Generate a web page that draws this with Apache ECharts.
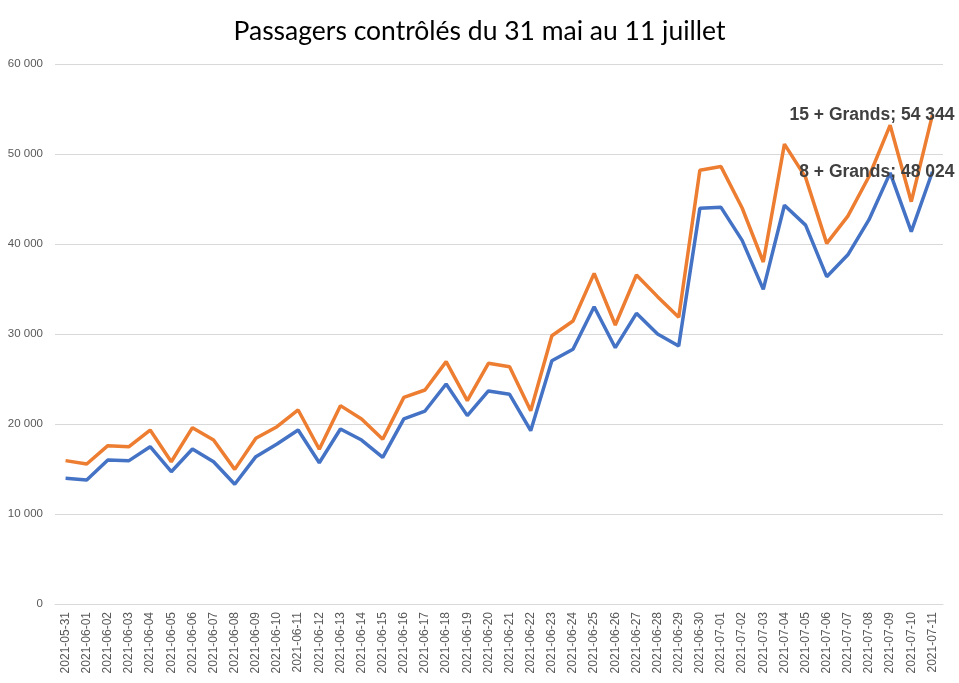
<!DOCTYPE html>
<html>
<head>
<meta charset="utf-8">
<script src="https://cdn.jsdelivr.net/npm/echarts@6/dist/echarts.min.js"></script>
<style>html,body{margin:0;padding:0;background:#fff}#c{width:959px;height:683px}</style>
</head>
<body>
<div id="c"></div>
<script>
const categories = ['2021-05-31','2021-06-01','2021-06-02','2021-06-03','2021-06-04','2021-06-05','2021-06-06','2021-06-07','2021-06-08','2021-06-09','2021-06-10','2021-06-11','2021-06-12','2021-06-13','2021-06-14','2021-06-15','2021-06-16','2021-06-17','2021-06-18','2021-06-19','2021-06-20','2021-06-21','2021-06-22','2021-06-23','2021-06-24','2021-06-25','2021-06-26','2021-06-27','2021-06-28','2021-06-29','2021-06-30','2021-07-01','2021-07-02','2021-07-03','2021-07-04','2021-07-05','2021-07-06','2021-07-07','2021-07-08','2021-07-09','2021-07-10','2021-07-11'];
const grands8 = [13960,13780,16000,15930,17480,14700,17220,15810,13300,16370,17780,19330,15700,19440,18220,16300,20560,21440,24440,20930,23670,23300,19260,27030,28300,33030,28480,32300,30000,28670,43960,44070,40400,34960,44300,42100,36370,38800,42700,47900,41370,48024];
const grands15 = [15930,15560,17590,17480,19330,15810,19590,18220,14960,18410,19700,21560,17190,22040,20560,18300,22960,23780,26930,22590,26740,26370,21480,29810,31440,36740,31000,36560,34150,31850,48200,48600,44000,38000,51100,47400,40070,43100,47500,53200,44700,54344];
const seriesNames = ['8 + Grands','15 + Grands'];
const yTicks = {min:0, max:60000, interval:10000};

function fmt(v){ return String(v).replace(/\B(?=(\d{3})+(?!\d))/g,' '); }

function buildData(arr, name){
  return arr.map((v,i)=> i===arr.length-1 ? {
    value:v,
    label:{show:true, formatter: name + '; ' + fmt(v)}
  } : v);
}

const chart = echarts.init(document.getElementById('c'));
const labelStyle = {
  position:'inside', align:'right', verticalAlign:'middle', offset:[22,0],
  fontFamily:'Liberation Sans', fontWeight:'bold', fontSize:17.5, color:'#404040'
};
chart.setOption({
  animation:false,
  title:{text:'Passagers contrôlés du 31 mai au 11 juillet', left:'center', top:13,
    textStyle:{fontFamily:'Lato', fontWeight:'normal', fontSize:26.5, color:'#000'}},
  grid:{left:55, right:16, top:64, bottom:79},
  xAxis:{type:'category', data:categories, boundaryGap:true,
    axisLine:{lineStyle:{color:'#d9d9d9'}}, axisTick:{show:false},
    axisLabel:{rotate:90, interval:0, fontFamily:'Liberation Sans', fontSize:12, color:'#595959', margin:8}},
  yAxis:{type:'value', min:yTicks.min, max:yTicks.max, interval:yTicks.interval,
    axisLine:{show:false}, axisTick:{show:false},
    splitLine:{lineStyle:{color:'#d9d9d9'}},
    axisLabel:{formatter:fmt, fontFamily:'Liberation Sans', fontSize:11.5, color:'#595959', margin:12}},
  series:[
    {name:seriesNames[0], type:'line', data:buildData(grands8, seriesNames[0]),
      symbol:'circle', symbolSize:0, showSymbol:true,
      lineStyle:{color:'#4472C4', width:3.5}, itemStyle:{color:'#4472C4'}, label:labelStyle, z:3},
    {name:seriesNames[1], type:'line', data:buildData(grands15, seriesNames[1]),
      symbol:'circle', symbolSize:0, showSymbol:true,
      lineStyle:{color:'#ED7D31', width:3.5}, itemStyle:{color:'#ED7D31'}, label:labelStyle, z:2}
  ]
});
</script>
</body>
</html>
